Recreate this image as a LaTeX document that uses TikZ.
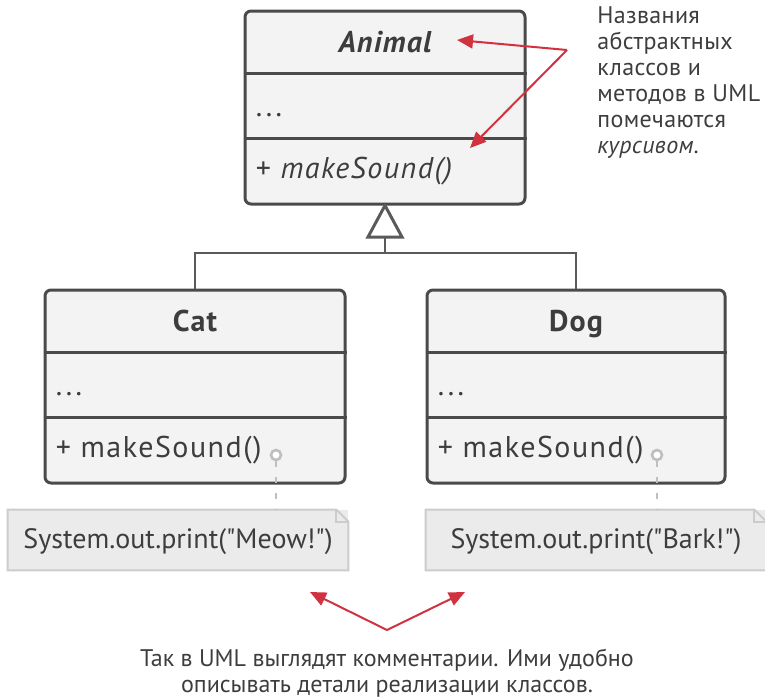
\documentclass[tikz,border=0pt]{standalone}
\usepackage{fontspec}
\setmainfont{PT Sans}[Ligatures=TeXOff]
\usetikzlibrary{arrows.meta}
\definecolor{umlink}{HTML}{3D3D3D}
\definecolor{umlborder}{HTML}{4A4A4A}
\definecolor{umlfill}{HTML}{F3F3F3}
\definecolor{umlline}{HTML}{5A5A5A}
\definecolor{portgray}{HTML}{BFBFBF}
\definecolor{notefill}{HTML}{EBEBEB}
\definecolor{noteline}{HTML}{CCCCCC}
\definecolor{hintred}{HTML}{D0333F}

\begin{document}
\begin{tikzpicture}[x=0.5pt, y=-0.5pt, text=umlink,
  classbox/.style={draw=umlborder, line width=1.5pt, fill=umlfill, rounded corners=3pt,
    minimum width=#1, minimum height=96.5pt, inner sep=0pt},
  classline/.style={draw=umlborder, line width=1.5pt},
  classname/.style={font=\fontsize{15}{17}\selectfont\bfseries\addfontfeatures{LetterSpace=4}, anchor=base, inner sep=0pt},
  member/.style={font=\fontsize{15}{17}\selectfont\addfontfeatures{LetterSpace=5}, anchor=base west, inner sep=0pt},
  connector/.style={draw=umlline, line width=1.2pt},
  inherit/.style={draw=umlline, line width=1.5pt, fill=white, line join=miter},
  port/.style={circle, draw=portgray, line width=1.3pt, fill=white, minimum size=5pt, inner sep=0pt},
  portline/.style={draw=portgray, line width=1.3pt, dash pattern=on 3pt off 5pt},
  notebox/.style={fill=notefill, minimum width=170pt, minimum height=30pt, inner sep=0pt,
    text height=10pt, text depth=2pt, font=\fontsize{14}{16}\selectfont},
  noteborder/.style={draw=noteline, line width=1pt, line join=miter},
  hint/.style={draw=hintred, line width=1pt, -{Triangle[length=8pt,width=7pt]}},
  hinttext/.style={font=\fontsize{12}{13}\selectfont, align=left, inner sep=0pt}]
  \useasboundingbox (0,0) rectangle (765,696);

  % abstract class
  \node[classbox=140pt] (animal) at (385,107.5) {};
  \draw[classline] ([yshift=-32pt]animal.north west) -- ([yshift=-32pt]animal.north east);
  \draw[classline] ([yshift=-64.5pt]animal.north west) -- ([yshift=-64.5pt]animal.north east);
  \node[classname] (animalname) at ([yshift=-21.5pt]animal.north) {\itshape Animal};
  \node[member] (animalattr) at ([xshift=6pt,yshift=-53.5pt]animal.north west) {...};
  \node[member] (animalop) at ([xshift=6pt,yshift=-84.5pt]animal.north west) {+ \itshape makeSound()};

  % subclasses
  \node[classbox=150pt] (cat) at (195,386.5) {};
  \draw[classline] ([yshift=-32pt]cat.north west) -- ([yshift=-32pt]cat.north east);
  \draw[classline] ([yshift=-64.5pt]cat.north west) -- ([yshift=-64.5pt]cat.north east);
  \node[classname] (catname) at ([yshift=-21.5pt]cat.north) {Cat};
  \node[member] (catattr) at ([xshift=6pt,yshift=-53.5pt]cat.north west) {...};
  \node[member] (catop) at ([xshift=6pt,yshift=-84.5pt]cat.north west) {+ makeSound()};

  \node[classbox=149pt] (dog) at (576,386.5) {};
  \draw[classline] ([yshift=-32pt]dog.north west) -- ([yshift=-32pt]dog.north east);
  \draw[classline] ([yshift=-64.5pt]dog.north west) -- ([yshift=-64.5pt]dog.north east);
  \node[classname] (dogname) at ([yshift=-21.5pt]dog.north) {Dog};
  \node[member] (dogattr) at ([xshift=6pt,yshift=-53.5pt]dog.north west) {...};
  \node[member] (dogop) at ([xshift=6pt,yshift=-84.5pt]dog.north west) {+ makeSound()};

  % generalization
  \coordinate (trianglebase) at (385,237);
  \coordinate (joint) at (385,253);
  \draw[connector] (trianglebase) -- (joint);
  \draw[connector] (cat.north) -- (cat.north |- joint) -- (dog.north |- joint) -- (dog.north);
  \draw[inherit] (animal.south) -- ([xshift=-8.5pt]trianglebase) -- ([xshift=8.5pt]trianglebase) -- cycle;

  % comments
  \node[notebox] (catnote) at (178,540) {System.out.print("Meow!")};
  \draw[noteborder] (catnote.south west) -- (catnote.north west) -- ([xshift=-6pt]catnote.north east)
    -- ([yshift=-6pt]catnote.north east) -- (catnote.south east) -- cycle;
  \draw[noteborder] ([xshift=-6pt]catnote.north east) |- ([yshift=-6pt]catnote.north east);
  \node[notebox] (dognote) at (596,540) {System.out.print("Bark!")};
  \draw[noteborder] (dognote.south west) -- (dognote.north west) -- ([xshift=-6pt]dognote.north east)
    -- ([yshift=-6pt]dognote.north east) -- (dognote.south east) -- cycle;
  \draw[noteborder] ([xshift=-6pt]dognote.north east) |- ([yshift=-6pt]dognote.north east);

  \node[port] (catport) at (276,455) {};
  \node[port] (dogport) at (657,455) {};
  \draw[portline] (catport) -- (catnote.north -| catport);
  \draw[portline] (dogport) -- (dognote.north -| dogport);

  % annotations
  \node[hinttext, anchor=north west, font=\fontsize{12}{13}\selectfont\addfontfeatures{LetterSpace=1.5}] (abstracttext) at (597,6)
    {Названия\\абстрактных\\классов и\\методов в UML\\помечаются\\\textit{курсивом}.};
  \coordinate (abstractsrc) at (567,50);
  \coordinate (nametip) at (457,40);
  \coordinate (optip) at (470,148);
  \draw[hint] (abstractsrc) -- (nametip);
  \draw[hint] (abstractsrc) -- (optip);

  \node[hinttext, align=center] (commenttext) at (387,673)
    {Так в UML выглядят комментарии. Ими удобно\\описывать детали реализации классов.};
  \coordinate (commentsrc) at (387,630);
  \coordinate (cattip) at (310,592);
  \coordinate (dogtip) at (465,592);
  \draw[hint] (commentsrc) -- (cattip);
  \draw[hint] (commentsrc) -- (dogtip);
\end{tikzpicture}
\end{document}
